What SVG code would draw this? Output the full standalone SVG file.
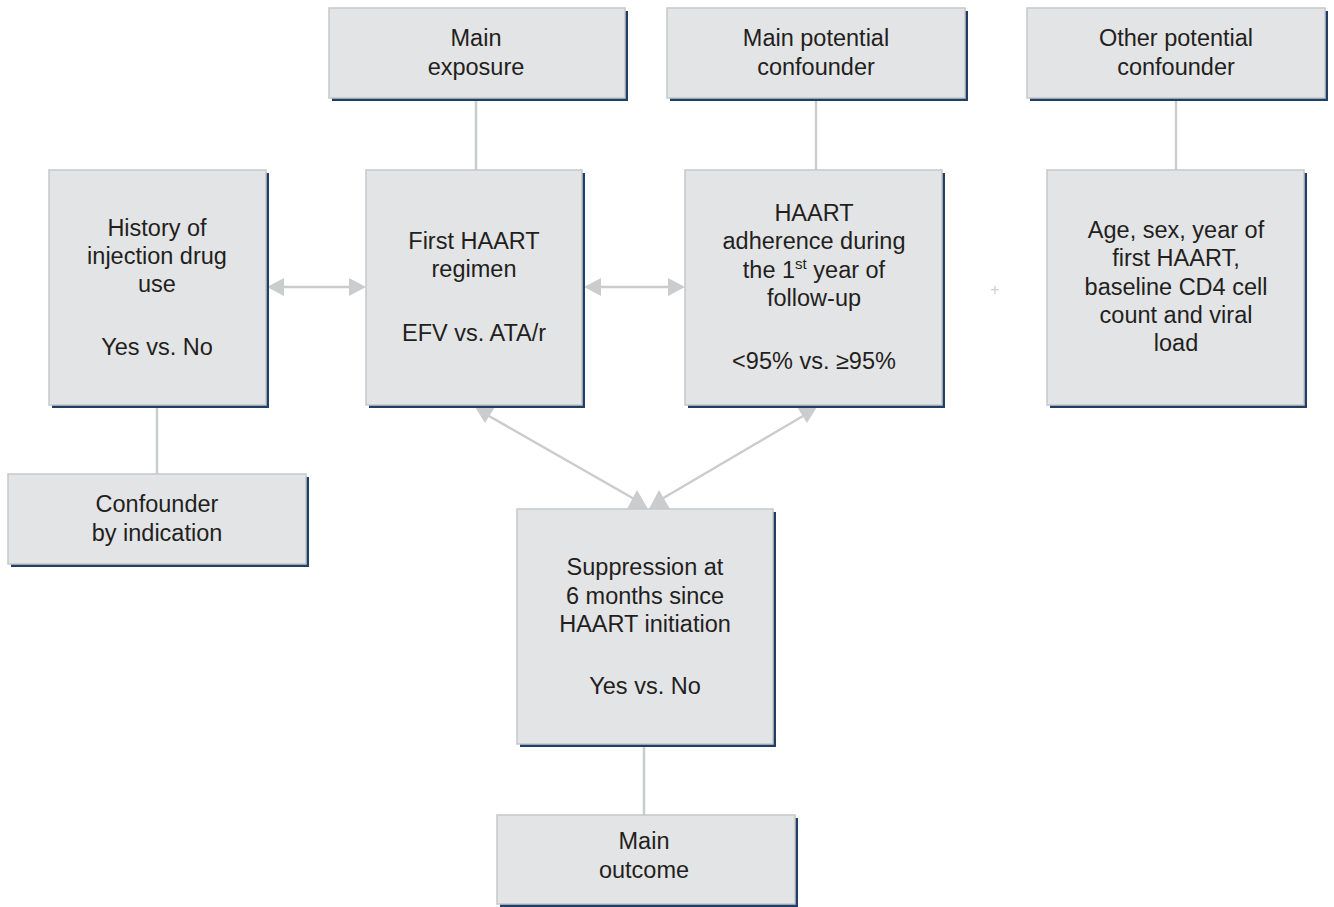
<svg xmlns="http://www.w3.org/2000/svg" width="1334" height="907" viewBox="0 0 1334 907">
<style>
.sh{fill:#1f3f66}
.bx{fill:#e3e4e6;stroke:#c6c7c9;stroke-width:1.5}
.t{font-family:"Liberation Sans",Arial,sans-serif;font-size:23.5px;fill:#231f20;text-anchor:middle}
.ln{stroke:#cbcccd;stroke-width:2.5;fill:none}
.ah{fill:#cbcccd}
</style>
<rect width="1334" height="907" fill="#ffffff"/>
<g id="connectors">
<line class="ln" x1="476" y1="98" x2="476" y2="170"/>
<line class="ln" x1="816" y1="98" x2="816" y2="170"/>
<line class="ln" x1="1176" y1="98" x2="1176" y2="170"/>
<line class="ln" x1="157" y1="405" x2="157" y2="474"/>
<line class="ln" x1="644" y1="744" x2="644" y2="815"/>
<line class="ln" x1="280" y1="287" x2="352" y2="287"/>
<polygon class="ah" points="267,287 284,278 284,296"/>
<polygon class="ah" points="366,287 349,278 349,296"/>
<line class="ln" x1="598" y1="287" x2="670" y2="287"/>
<polygon class="ah" points="584,287 601,278 601,296"/>
<polygon class="ah" points="685,287 668,278 668,296"/>
<line class="ln" x1="489" y1="416" x2="636" y2="500"/>
<polygon class="ah" points="475,407 495,407 485,423"/>
<polygon class="ah" points="627,509 648,509 637,490"/>
<line class="ln" x1="803" y1="416" x2="660" y2="500"/>
<polygon class="ah" points="797,407 817,407 807,423"/>
<polygon class="ah" points="649,509 670,509 659,490"/>
<text x="995" y="295" style="font-family:'Liberation Sans',Arial,sans-serif;font-size:16px;fill:#cfd0d1;text-anchor:middle">+</text>
</g>
<g id="main-exposure">
<rect class="sh" x="332" y="11" width="296" height="90"/>
<rect class="bx" x="329" y="8" width="296" height="90"/>
<text class="t" x="476" y="46">Main</text>
<text class="t" x="476" y="75">exposure</text>
</g>
<g id="main-potential-confounder">
<rect class="sh" x="670" y="11" width="298" height="90"/>
<rect class="bx" x="667" y="8" width="298" height="90"/>
<text class="t" x="816" y="46">Main potential</text>
<text class="t" x="816" y="75">confounder</text>
</g>
<g id="other-potential-confounder">
<rect class="sh" x="1030" y="11" width="298" height="90"/>
<rect class="bx" x="1027" y="8" width="298" height="90"/>
<text class="t" x="1176" y="46">Other potential</text>
<text class="t" x="1176" y="75">confounder</text>
</g>
<g id="history-idu">
<rect class="sh" x="52" y="173" width="217" height="235"/>
<rect class="bx" x="49" y="170" width="217" height="235"/>
<text class="t" x="157" y="236">History of</text>
<text class="t" x="157" y="264">injection drug</text>
<text class="t" x="157" y="292">use</text>
<text class="t" x="157" y="355">Yes vs. No</text>
</g>
<g id="first-haart">
<rect class="sh" x="369" y="173" width="216" height="235"/>
<rect class="bx" x="366" y="170" width="216" height="235"/>
<text class="t" x="474" y="249">First HAART</text>
<text class="t" x="474" y="277">regimen</text>
<text class="t" x="474" y="341">EFV vs. ATA/r</text>
</g>
<g id="haart-adherence">
<rect class="sh" x="688" y="173" width="257" height="235"/>
<rect class="bx" x="685" y="170" width="257" height="235"/>
<text class="t" x="814" y="221">HAART</text>
<text class="t" x="814" y="249">adherence during</text>
<text class="t" x="814" y="278">the 1<tspan font-size="15" dy="-9">st</tspan><tspan dy="9"> year of</tspan></text>
<text class="t" x="814" y="306">follow-up</text>
<text class="t" x="814" y="369">&lt;95% vs. ≥95%</text>
</g>
<g id="other-confounders">
<rect class="sh" x="1050" y="173" width="257" height="235"/>
<rect class="bx" x="1047" y="170" width="257" height="235"/>
<text class="t" x="1176" y="238">Age, sex, year of</text>
<text class="t" x="1176" y="266">first HAART,</text>
<text class="t" x="1176" y="295">baseline CD4 cell</text>
<text class="t" x="1176" y="323">count and viral</text>
<text class="t" x="1176" y="351">load</text>
</g>
<g id="confounder-by-indication">
<rect class="sh" x="11" y="477" width="298" height="90"/>
<rect class="bx" x="8" y="474" width="298" height="90"/>
<text class="t" x="157" y="512">Confounder</text>
<text class="t" x="157" y="541">by indication</text>
</g>
<g id="suppression">
<rect class="sh" x="520" y="512" width="256" height="235"/>
<rect class="bx" x="517" y="509" width="256" height="235"/>
<text class="t" x="645" y="575">Suppression at</text>
<text class="t" x="645" y="604">6 months since</text>
<text class="t" x="645" y="632">HAART initiation</text>
<text class="t" x="645" y="694">Yes vs. No</text>
</g>
<g id="main-outcome">
<rect class="sh" x="500" y="818" width="298" height="89"/>
<rect class="bx" x="497" y="815" width="298" height="89"/>
<text class="t" x="644" y="849">Main</text>
<text class="t" x="644" y="878">outcome</text>
</g>
</svg>
